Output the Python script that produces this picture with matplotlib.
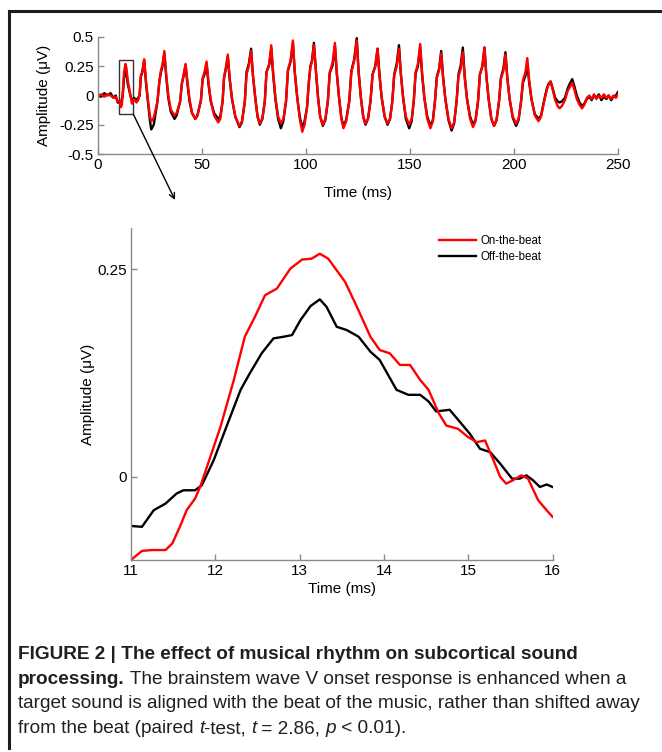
import matplotlib
matplotlib.use("Agg")
import matplotlib.pyplot as plt
from matplotlib import font_manager
from matplotlib.lines import Line2D
from matplotlib.patches import Rectangle

W, H = 662, 752

# top panel: full response, both conditions read on one time grid (ms)
top_t = [0, 1.5, 3, 4.5, 6, 7.5, 8.5, 9.5, 10.5, 11.0, 11.5, 11.9, 12.5, 13.2, 13.7, 14.3, 15.2, 16.3, 17.3, 18.5, 19.3,
         20.0, 20.6, 21.3, 22.2, 23.1, 24.1, 25.0, 25.6, 26.8,
         28.6, 29.5, 30.3, 31.0, 31.9, 32.8, 33.8, 35.0, 36.8, 37.8,
         39.5, 40.3, 41.2, 42.1, 43.0, 44.0, 45.2, 46.8, 47.8,
         49.5, 50.3, 51.2, 52.2, 53.1, 54.2, 55.8, 57.8, 58.8,
         59.9, 60.6, 61.5, 62.4, 63.3, 64.4, 66.0, 68.0, 69.2,
         70.6, 71.4, 72.5, 73.6, 74.5, 75.6, 76.7, 77.8, 79.0,
         80.2, 81.0, 82.3, 83.3, 84.2, 85.3, 86.6, 87.9, 89.1,
         90.4, 91.3, 92.6, 93.7, 94.6, 95.8, 97.0, 98.2, 99.3,
         100.5, 101.4, 102.1, 102.9, 103.8, 104.8, 105.8, 106.8, 108.1, 109.3,
         110.5, 111.4, 112.8, 113.9, 114.8, 115.9, 117.0, 118.0, 119.3,
         120.8, 121.8, 123.2, 124.4, 125.3, 126.4, 127.5, 128.6, 129.8,
         131.0, 132.0, 133.3, 134.4, 135.3, 136.4, 137.8, 139.2, 140.4,
         141.5, 142.4, 143.6, 144.7, 145.6, 146.7, 148.0, 149.6, 150.8,
         151.8, 152.7, 153.8, 154.9, 155.8, 156.9, 158.3, 159.8, 161.0,
         162.0, 162.9, 164.0, 165.0, 165.9, 167.0, 168.5, 170.0, 171.2,
         172.4, 173.3, 174.4, 175.4, 176.3, 177.4, 178.9, 180.3, 181.5,
         182.7, 183.6, 184.8, 185.8, 186.7, 187.8, 189.1, 190.4, 191.6,
         192.8, 193.7, 194.9, 195.9, 196.8, 197.9, 199.4, 201.0, 202.2,
         203.4, 204.3, 205.5, 206.4, 207.3, 208.4, 210.0, 211.8, 213.0,
         214.5, 215.8, 216.6, 217.6, 218.6, 219.8, 221.0, 221.9, 223.0,
         224.5, 225.8, 226.8, 228.0, 229.0, 230.2, 231.5, 232.7, 233.8,
         235.0, 236.2, 237.3, 238.5, 239.6, 240.8, 242.0, 243.2, 244.4, 245.5, 246.7, 247.8, 249.0, 250.0]

top_red = [0.0, 0.01, -0.01, 0.01, 0.0, -0.02, -0.01, -0.05, -0.05, -0.1, -0.08, 0.02, 0.2, 0.27, 0.23, 0.13, 0.04, -0.07, -0.03, -0.06, -0.04,
           0.0, 0.17, 0.2, 0.31, 0.12, -0.05, -0.18, -0.22, -0.19,
           -0.05, 0.12, 0.22, 0.26, 0.38, 0.18, 0.0, -0.12, -0.17, -0.15,
           -0.05, 0.1, 0.18, 0.27, 0.12, -0.03, -0.15, -0.2, -0.17,
           -0.04, 0.15, 0.2, 0.29, 0.12, -0.04, -0.17, -0.23, -0.2,
           -0.05, 0.16, 0.24, 0.35, 0.15, -0.02, -0.18, -0.26, -0.22,
           -0.05, 0.18, 0.25, 0.38, 0.17, -0.02, -0.18, -0.24, -0.2,
           -0.05, 0.2, 0.27, 0.43, 0.2, -0.02, -0.18, -0.24, -0.2,
           -0.05, 0.22, 0.3, 0.47, 0.2, -0.02, -0.2, -0.31, -0.25,
           -0.1, 0.12, 0.24, 0.29, 0.43, 0.2, -0.02, -0.18, -0.25, -0.2,
           -0.05, 0.2, 0.28, 0.45, 0.2, -0.02, -0.2, -0.28, -0.22,
           -0.05, 0.2, 0.3, 0.47, 0.2, -0.02, -0.18, -0.24, -0.2,
           -0.05, 0.18, 0.25, 0.40, 0.18, -0.02, -0.18, -0.24, -0.2,
           -0.05, 0.17, 0.25, 0.40, 0.18, -0.02, -0.18, -0.25, -0.2,
           -0.05, 0.2, 0.27, 0.44, 0.2, -0.02, -0.2, -0.28, -0.22,
           -0.05, 0.15, 0.22, 0.36, 0.15, -0.03, -0.2, -0.28, -0.23,
           -0.05, 0.16, 0.23, 0.37, 0.15, -0.03, -0.2, -0.27, -0.22,
           -0.05, 0.18, 0.25, 0.41, 0.17, -0.03, -0.2, -0.26, -0.21,
           -0.05, 0.14, 0.21, 0.35, 0.14, -0.03, -0.18, -0.24, -0.2,
           -0.05, 0.13, 0.2, 0.32, 0.13, -0.03, -0.17, -0.22, -0.18,
           -0.05, 0.05, 0.09, 0.12, 0.05, -0.04, -0.09, -0.11, -0.09,
           -0.04, 0.04, 0.07, 0.11, 0.05, -0.03, -0.08, -0.11, -0.08,
           -0.02, 0.0, -0.03, 0.01, -0.03, 0.0, -0.02, 0.01, -0.02, 0.0, -0.03, 0.0, -0.02, 0.01]

top_black = [0.0, -0.01, 0.02, 0.0, 0.02, -0.02, 0.0, -0.06, -0.06, -0.06, -0.03, 0.0, 0.15, 0.21, 0.18, 0.1, 0.03, -0.05, -0.02, -0.04, -0.02,
             0.0, 0.16, 0.2, 0.30, 0.1, -0.07, -0.22, -0.29, -0.25,
             -0.05, 0.12, 0.2, 0.25, 0.36, 0.16, -0.02, -0.14, -0.2, -0.17,
             -0.05, 0.1, 0.17, 0.26, 0.1, -0.05, -0.15, -0.2, -0.17,
             -0.04, 0.14, 0.18, 0.27, 0.1, -0.05, -0.15, -0.2, -0.18,
             -0.05, 0.15, 0.23, 0.33, 0.14, -0.03, -0.18, -0.27, -0.23,
             -0.05, 0.2, 0.27, 0.40, 0.17, -0.02, -0.18, -0.25, -0.2,
             -0.05, 0.2, 0.26, 0.40, 0.18, -0.03, -0.2, -0.28, -0.22,
             -0.05, 0.21, 0.29, 0.45, 0.2, -0.02, -0.18, -0.28, -0.22,
             -0.1, 0.12, 0.25, 0.3, 0.45, 0.2, -0.02, -0.18, -0.26, -0.21,
             -0.05, 0.19, 0.26, 0.42, 0.19, -0.02, -0.19, -0.26, -0.21,
             -0.05, 0.21, 0.31, 0.49, 0.2, -0.02, -0.18, -0.25, -0.2,
             -0.05, 0.18, 0.25, 0.40, 0.18, -0.02, -0.18, -0.25, -0.2,
             -0.05, 0.18, 0.27, 0.43, 0.19, -0.02, -0.2, -0.28, -0.22,
             -0.05, 0.19, 0.25, 0.41, 0.18, -0.02, -0.18, -0.26, -0.21,
             -0.05, 0.16, 0.23, 0.38, 0.16, -0.03, -0.21, -0.30, -0.24,
             -0.05, 0.18, 0.26, 0.41, 0.17, -0.03, -0.18, -0.25, -0.21,
             -0.05, 0.18, 0.25, 0.41, 0.17, -0.03, -0.2, -0.26, -0.21,
             -0.05, 0.15, 0.23, 0.37, 0.15, -0.03, -0.19, -0.26, -0.21,
             -0.05, 0.11, 0.17, 0.27, 0.11, -0.03, -0.16, -0.20, -0.17,
             -0.04, 0.06, 0.1, 0.12, 0.06, -0.02, -0.05, -0.06, -0.05,
             -0.02, 0.06, 0.1, 0.14, 0.08, 0.0, -0.06, -0.09, -0.07,
             -0.03, -0.01, -0.04, 0.0, -0.02, 0.01, -0.04, -0.01, -0.03, 0.0, -0.04, -0.01, 0.0, 0.03]

# bottom panel: wave V onset, 11-16 ms
zoom_t_red = [11.0, 11.13, 11.25, 11.41, 11.49, 11.58, 11.66, 11.76, 11.82, 11.94, 12.06, 12.22,
              12.35, 12.47, 12.59, 12.73, 12.89, 13.03, 13.14, 13.24, 13.34, 13.44, 13.54, 13.68,
              13.84, 13.95, 14.07, 14.19, 14.31, 14.43, 14.53, 14.65, 14.74, 14.88, 15.0, 15.1,
              15.2, 15.3, 15.38, 15.45, 15.53, 15.63, 15.71, 15.83, 15.93, 16.0]
zoom_v_red = [-0.1, -0.089, -0.088, -0.088, -0.08, -0.06, -0.04, -0.026, -0.012, 0.024, 0.06, 0.117,
              0.169, 0.193, 0.219, 0.227, 0.251, 0.262, 0.263, 0.269, 0.263, 0.249, 0.235, 0.205,
              0.169, 0.153, 0.149, 0.135, 0.135, 0.117, 0.105, 0.077, 0.062, 0.058, 0.048, 0.042,
              0.044, 0.02, 0.0, -0.008, -0.004, 0.002, -0.002, -0.028, -0.04, -0.048]

zoom_t_black = [11.0, 11.13, 11.27, 11.41, 11.54, 11.62, 11.76, 11.84, 11.98, 12.1, 12.3, 12.41,
                12.55, 12.69, 12.81, 12.91, 13.01, 13.13, 13.24, 13.32, 13.44, 13.56, 13.7, 13.84,
                13.95, 14.05, 14.15, 14.29, 14.43, 14.53, 14.62, 14.78, 14.88, 15.02, 15.14, 15.26,
                15.38, 15.52, 15.61, 15.69, 15.77, 15.85, 15.93, 16.0]
zoom_v_black = [-0.059, -0.06, -0.04, -0.032, -0.02, -0.016, -0.016, -0.01, 0.02, 0.052, 0.105,
                0.125, 0.149, 0.167, 0.169, 0.171, 0.189, 0.206, 0.214, 0.205, 0.181, 0.177, 0.169,
                0.151, 0.141, 0.123, 0.105, 0.099, 0.099, 0.091, 0.079, 0.081, 0.069, 0.052, 0.034,
                0.03, 0.016, -0.002, -0.002, 0.002, -0.004, -0.012, -0.009, -0.012]

legend_labels = ["On-the-beat", "Off-the-beat"]

caption = [
    [("FIGURE 2 | The effect of musical rhythm on subcortical sound", "bold", "normal")],
    [("processing.", "bold", "normal"),
     (" The brainstem wave V onset response is enhanced when a", "normal", "normal")],
    [("target sound is aligned with the beat of the music, rather than shifted away", "normal", "normal")],
    [("from the beat (paired ", "normal", "normal"), ("t", "normal", "italic"),
     ("-test, ", "normal", "normal"), ("t", "normal", "italic"), (" = 2.86, ", "normal", "normal"),
     ("p", "normal", "italic"), (" < 0.01).", "normal", "normal")],
]

names = {f.name for f in font_manager.fontManager.ttflist}
narrow = "Liberation Sans Narrow" if "Liberation Sans Narrow" in names else "Liberation Sans"

plt.rcParams["font.family"] = ["Liberation Sans", "DejaVu Sans"]
SPINE = "#8a8a8a"


def style_axes(ax):
    for s in ["top", "right"]:
        ax.spines[s].set_visible(False)
    for s in ["left", "bottom"]:
        ax.spines[s].set_color(SPINE)
        ax.spines[s].set_linewidth(1.0)
    ax.tick_params(direction="in", length=4, width=1, color=SPINE, labelsize=11, pad=3)


fig = plt.figure(figsize=(W / 100, H / 100), dpi=100)

# frame (top and left edges only)
fig.add_artist(Line2D([9 / W, 1], [1 - 10.5 / H, 1 - 10.5 / H], color="#1e1e1e", lw=2.2))
fig.add_artist(Line2D([9 / W, 9 / W], [1 - 10.5 / H, 1 - 748 / H], color="#1e1e1e", lw=2.2))

# top panel
ax1 = fig.add_axes([98 / W, 1 - 154 / H, 520 / W, 117 / H])
style_axes(ax1)
ax1.plot(top_t, top_black, color="black", lw=1.7)
ax1.plot(top_t, top_red, color="#ff0000", lw=1.7)
ax1.set_xlim(0, 250)
ax1.set_ylim(-0.5, 0.5)
ax1.set_xticks([0, 50, 100, 150, 200, 250])
ax1.set_yticks([-0.5, -0.25, 0, 0.25, 0.5])
ax1.set_yticklabels(["-0.5", "-0.25", "0", "0.25", "0.5"])
ax1.set_xlabel("Time (ms)", fontsize=11)
ax1.set_ylabel("Amplitude (\u03bcV)", fontsize=11)
ax1.xaxis.set_label_coords(0.5, -0.27)
ax1.yaxis.set_label_coords(-0.09, 0.5)
ax1.add_patch(Rectangle((10.3, -0.16), 6.7, 0.46, fill=False, edgecolor="#333333", lw=1.0))
ax1.annotate("", xy=(175 / W, 1 - 200 / H), xycoords="figure fraction",
             xytext=(17, -0.16), textcoords="data", annotation_clip=False,
             arrowprops=dict(arrowstyle="->", color="black", lw=1.0, shrinkA=0, shrinkB=0))

# bottom panel
ax2 = fig.add_axes([131 / W, 1 - 560 / H, 421.5 / W, 332 / H])
style_axes(ax2)
ax2.plot(zoom_t_black, zoom_v_black, color="black", lw=1.7, label=legend_labels[1])
ax2.plot(zoom_t_red, zoom_v_red, color="#ff0000", lw=1.7, label=legend_labels[0])
ax2.set_xlim(11, 16)
ax2.set_ylim(-0.1, 0.3)
ax2.set_xticks([11, 12, 13, 14, 15, 16])
ax2.set_yticks([0, 0.25])
ax2.set_yticklabels(["0", "0.25"])
ax2.set_xlabel("Time (ms)", fontsize=11)
ax2.set_ylabel("Amplitude (\u03bcV)", fontsize=11)
ax2.xaxis.set_label_coords(0.5, -0.065)
ax2.yaxis.set_label_coords(-0.085, 0.5)
h, l = ax2.get_legend_handles_labels()
ax2.legend(h[::-1], l[::-1], loc="upper right", bbox_to_anchor=(1.0, 1.01), frameon=False,
           fontsize=8.3, handlelength=3.2, handletextpad=0.4, labelspacing=0.35)

# caption
r = fig.canvas.get_renderer()
baselines = [659, 684, 708, 733]
for line, yb in zip(caption, baselines):
    x = 18
    for s, w, st in line:
        t = fig.text(x / W, 1 - yb / H, s, fontsize=13.7, fontweight=w, fontstyle=st,
                     family=[narrow, "DejaVu Sans"], va="baseline", ha="left", color="#231f20")
        x += t.get_window_extent(r).width

fig.savefig("out.png", dpi=100)
